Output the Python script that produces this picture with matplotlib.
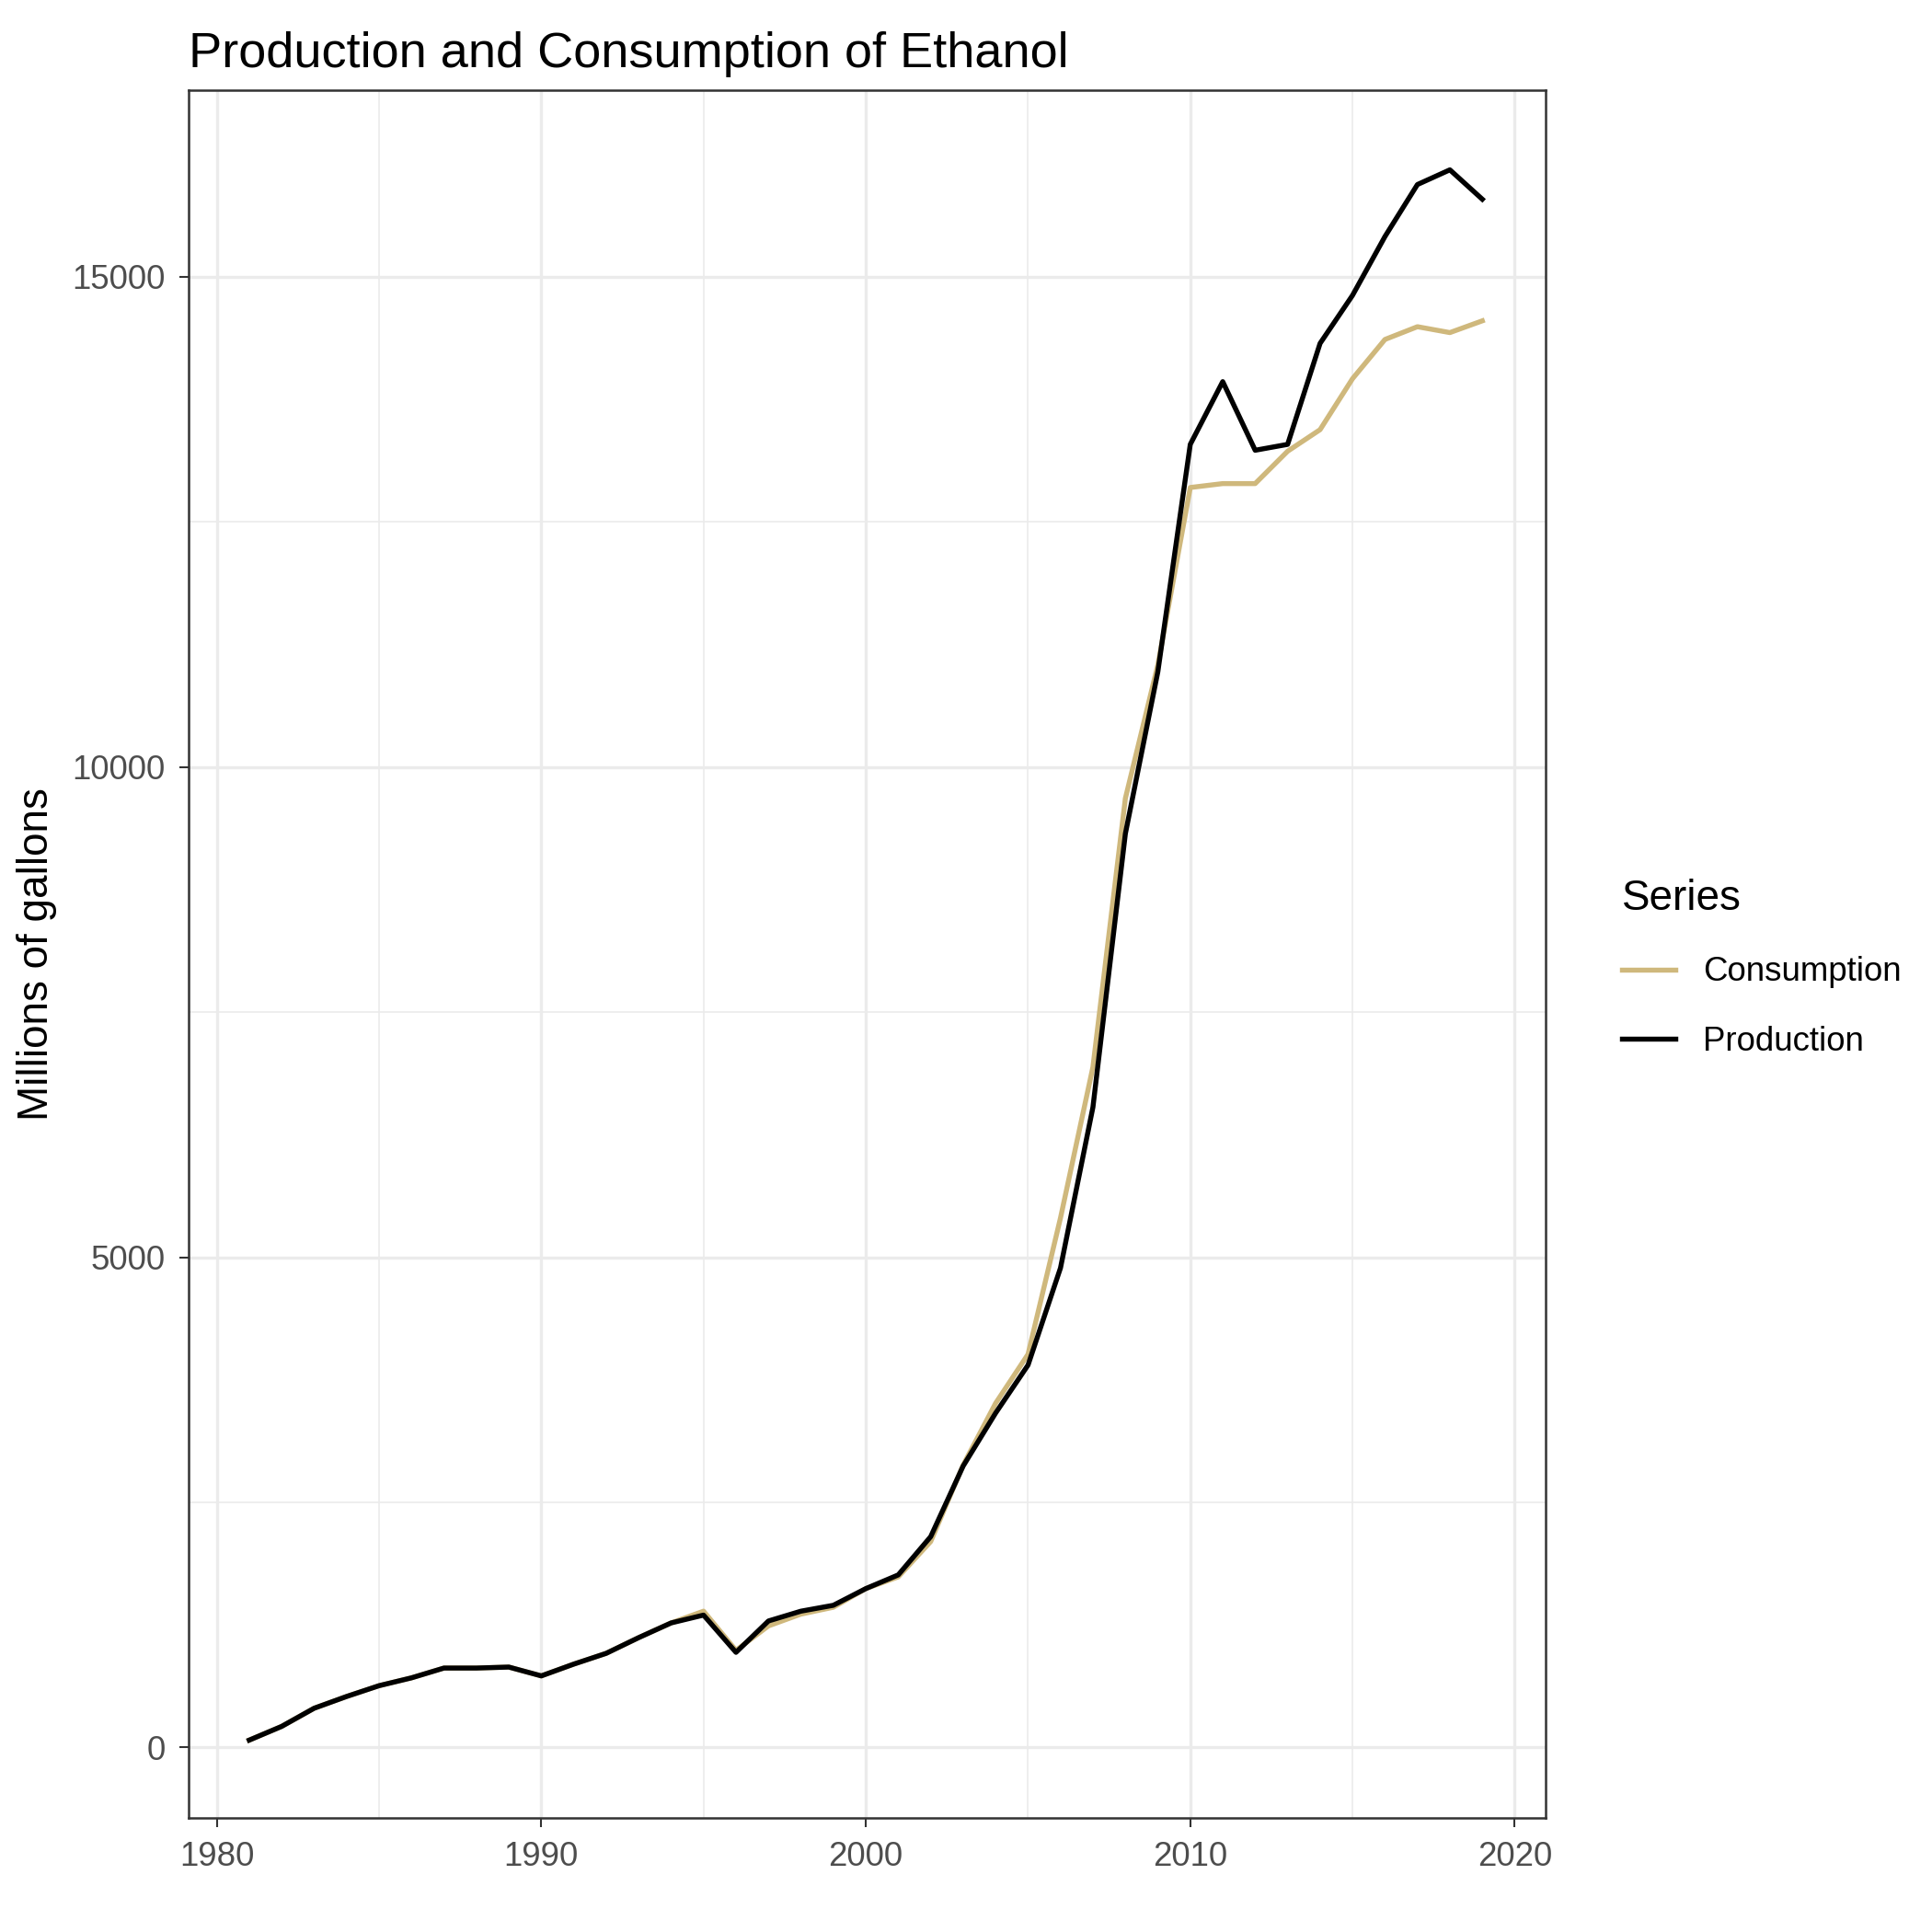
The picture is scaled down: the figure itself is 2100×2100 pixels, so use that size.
import matplotlib
matplotlib.use("Agg")
import matplotlib.pyplot as plt
from matplotlib.ticker import MultipleLocator

plt.rcParams['font.family'] = ['Liberation Sans', 'DejaVu Sans']

years = list(range(1981, 2020))
production = [75, 215, 400, 520, 630, 710, 810, 810, 820, 730, 850, 960, 1120, 1270, 1350,
              970, 1290, 1390, 1450, 1620, 1760, 2150, 2870, 3410, 3900, 4890, 6530, 9320,
              10970, 13290, 13930, 13230, 13290, 14320, 14810, 15410, 15940, 16090, 15790]
consumption = [75, 215, 400, 520, 630, 710, 810, 810, 820, 730, 850, 960, 1120, 1270, 1390,
               990, 1240, 1360, 1430, 1620, 1740, 2100, 2880, 3510, 4010, 5400, 6940, 9680,
               11040, 12850, 12890, 12890, 13220, 13440, 13960, 14360, 14490, 14430, 14550]

fig = plt.figure(figsize=(7, 7), dpi=300)
ax = fig.add_axes([152/1560, 1 - 1468/1560, (1248-152)/1560, (1468-73)/1560])
ax.plot(years, consumption, color='#CFB87C', lw=1.3, label='Consumption')
ax.plot(years, production, color='black', lw=1.3, label='Production')
ax.set_xlim(1979.12, 2020.95)
ax.set_ylim(-720, 16900)
ax.xaxis.set_major_locator(MultipleLocator(10))
ax.xaxis.set_minor_locator(MultipleLocator(5))
ax.yaxis.set_major_locator(MultipleLocator(5000))
ax.yaxis.set_minor_locator(MultipleLocator(2500))
ax.grid(which='major', color='#EBEBEB', lw=0.8)
ax.grid(which='minor', color='#EBEBEB', lw=0.4)
ax.set_axisbelow(True)
ax.tick_params(which='minor', length=0)
ax.tick_params(which='major', length=2.5, width=0.5, color='#333333', labelcolor='#4D4D4D', labelsize=8.8)
for s in ax.spines.values():
    s.set_color('#333333'); s.set_linewidth(0.6)
ax.set_ylabel('Millions of gallons', fontsize=11)
ax.set_title('Production and Consumption of Ethanol', fontsize=13, loc='left', x=-0.0)
leg = fig.legend(loc='upper left', bbox_to_anchor=(1285/1560, 1 - 685/1560), frameon=False,
                 title='Series', fontsize=8.8, title_fontsize=11, handlelength=1.6, labelspacing=1.1)
leg._legend_box.align = 'left'
fig.savefig('out.png')
